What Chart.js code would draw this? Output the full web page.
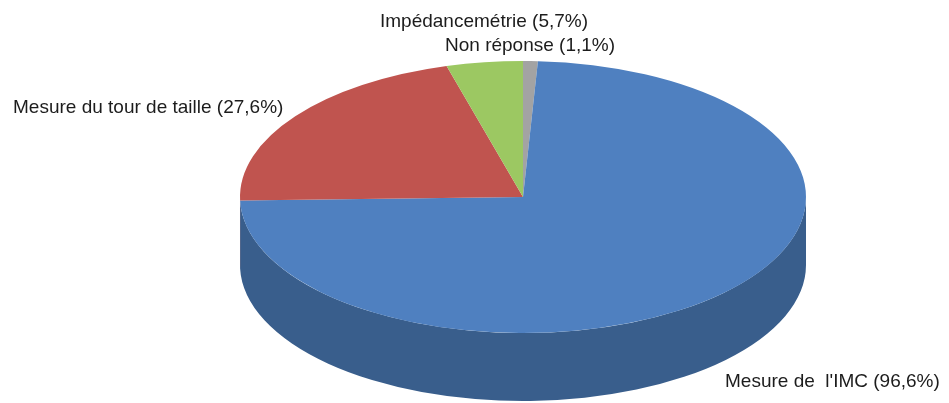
<!DOCTYPE html>
<html>
<head>
<meta charset="utf-8">
<script src="https://cdn.jsdelivr.net/npm/chart.js@4.4.1/dist/chart.umd.min.js"></script>
<style>
  html, body { margin: 0; padding: 0; background: #ffffff; }
  #pie { display: block; }
</style>
</head>
<body>
<canvas id="pie" width="949" height="403"></canvas>
<script>
// Données (réponses multiples, le total dépasse 100 %)
const categories = ["Non réponse", "Mesure de  l'IMC", "Mesure du tour de taille", "Impédancemétrie"];
const valeurs = [1.1, 96.6, 27.6, 5.7];
const couleurs = ["#a3a3a3", "#4f80c0", "#c0544f", "#9cc862"];
const couleursCote = ["#767676", "#395e8c", "#8e3b38", "#729446"];

// position des étiquettes (texte seulement)
const posEtiquettes = [[445, 51], [725, 387], [13, 113], [380, 27]];

// ellipse à l'écran
const CX = 523, CY = 197, RX = 283, RY = 136, PROFONDEUR = 68;

const plotPie = document.getElementById("pie");

function formatPct(v) {
    return "(" + v.toFixed(1).replace(".", ",") + "%)";
}

const pie3d = {
    id: 'pie3d',
    beforeDatasetsDraw(chart) {
        const ctx = chart.ctx;
        const arcs = chart.getDatasetMeta(0).data;
        const { x, y, outerRadius: r } = arcs[0];
        const sx = RX / r, sy = RY / r;
        ctx.save();
        ctx.translate(CX, CY);
        ctx.scale(sx, sy);
        ctx.translate(-x, -y);
        const d = PROFONDEUR / sy;
        // les côtés visibles (moitié avant)
        arcs.forEach((arc, i) => {
            const s = Math.max(arc.startAngle, 0);
            const e = Math.min(arc.endAngle, Math.PI);
            if (e <= s) return;
            ctx.beginPath();
            ctx.arc(x, y, r, s, e);
            ctx.arc(x, y + d, r, e, s, true);
            ctx.closePath();
            ctx.fillStyle = couleursCote[i];
            ctx.fill();
        });
    },
    afterDatasetsDraw(chart) {
        chart.ctx.restore();
    },
    afterDraw(chart) {
        const ctx = chart.ctx;
        ctx.save();
        ctx.font = '19px "Liberation Sans", Arial, sans-serif';
        ctx.fillStyle = '#1c1c1c';
        ctx.textAlign = 'left';
        ctx.textBaseline = 'alphabetic';
        categories.forEach((c, i) => {
            const p = posEtiquettes[i];
            ctx.fillText(c + " " + formatPct(valeurs[i]), p[0], p[1]);
        });
        ctx.restore();
    }
};

new Chart(plotPie, {
    type: 'pie',
    data: {
        labels: categories,
        datasets: [{
            data: valeurs,
            backgroundColor: couleurs,
            borderWidth: 0
        }]
    },
    options: {
        responsive: false,
        animation: false,
        events: [],
        layout: { padding: 0 },
        plugins: {
            legend: { display: false },
            tooltip: { enabled: false }
        }
    },
    plugins: [pie3d]
});
</script>
</body>
</html>
